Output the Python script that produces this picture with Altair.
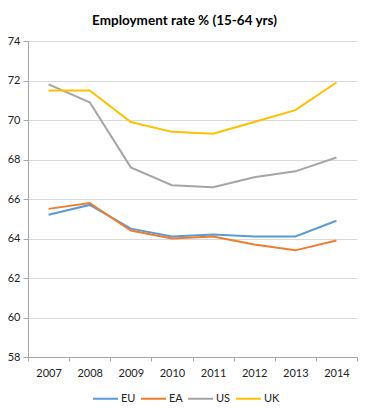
import altair as alt
import pandas as pd

years = ["2007", "2008", "2009", "2010", "2011", "2012", "2013", "2014"]
eu = [65.2, 65.7, 64.5, 64.1, 64.2, 64.1, 64.1, 64.9]
ea = [65.5, 65.8, 64.4, 64.0, 64.1, 63.7, 63.4, 63.9]
us = [71.8, 70.9, 67.6, 66.7, 66.6, 67.1, 67.4, 68.1]
uk = [71.5, 71.5, 69.9, 69.4, 69.3, 69.9, 70.5, 71.9]
series = ["EU", "EA", "US", "UK"]
colors = ["#5B9BD5", "#ED7D31", "#A5A5A5", "#FFC000"]

rows = []
for name, vals in zip(series, [eu, ea, us, uk]):
    for y, v in zip(years, vals):
        rows.append({"year": y, "series": name, "value": v})
df = pd.DataFrame(rows)

FONT = "Lato"

chart = alt.Chart(df).mark_line(strokeWidth=2).encode(
    x=alt.X("year:N", sort=years,
            scale=alt.Scale(type="band", paddingInner=0, paddingOuter=0),
            axis=alt.Axis(title=None, labelAngle=0, tickBand="extent", grid=False,
                          domainColor="#A6A6A6", tickColor="#A6A6A6", tickSize=4,
                          labelFontSize=11, labelColor="#222222", labelPadding=6,
                          labelFont=FONT)),
    y=alt.Y("value:Q",
            scale=alt.Scale(domain=[58, 74], nice=False, zero=False),
            axis=alt.Axis(title=None, values=[58, 60, 62, 64, 66, 68, 70, 72, 74],
                          gridColor="#D9D9D9", domainColor="#A6A6A6", tickColor="#A6A6A6",
                          tickSize=5, labelFontSize=11, labelColor="#222222",
                          labelPadding=3, labelFont=FONT)),
    color=alt.Color("series:N", sort=series,
                    scale=alt.Scale(domain=series, range=colors),
                    legend=alt.Legend(title=None, orient="none", direction="horizontal",
                                      legendX=64, legendY=344,
                                      symbolType="stroke", symbolSize=625,
                                      symbolStrokeWidth=2, labelFontSize=11,
                                      labelFont=FONT, labelColor="#222222",
                                      columnPadding=1, labelOffset=2)),
).properties(
    width=329,
    height=316,
    title=alt.TitleParams("Employment rate % (15-64 yrs)", fontSize=13.5, font=FONT,
                          fontWeight="bold", color="#000000", offset=8, dx=-8),
    autosize=alt.AutoSizeParams(type="none"),
    padding={"left": 20, "top": 33, "right": 5, "bottom": 50},
).configure_view(stroke=None)

chart.save("out.html", embed_options={"renderer": "svg", "actions": False})
